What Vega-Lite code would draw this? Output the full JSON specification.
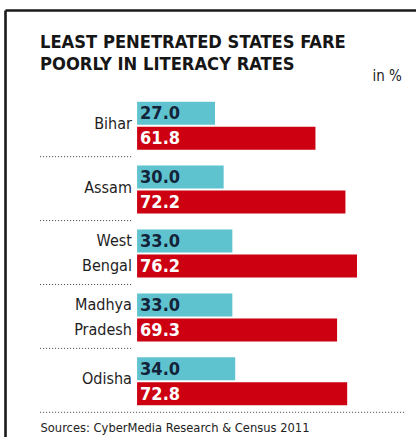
{
  "$schema": "https://vega.github.io/schema/vega-lite/v6.json",
  "width": 411,
  "height": 427,
  "autosize": {"type": "none"},
  "padding": {"left": 5, "top": 10, "right": 0, "bottom": 0},
  "background": "white",
  "config": {"view": {"stroke": null}},
  "title": {
    "text": ["LEAST PENETRATED STATES FARE", "POORLY IN LITERACY RATES"],
    "anchor": "start",
    "frame": "group",
    "font": "DejaVu Sans Condensed, sans-serif",
    "fontSize": 18.2,
    "fontWeight": "bold",
    "color": "#161616",
    "lineHeight": 22,
    "offset": 0,
    "dx": 35,
    "dy": 64
  },
  "data": {
    "values": [
      {"state": "Bihar", "series": "Internet penetration", "value": 27.0},
      {"state": "Bihar", "series": "Literacy rate", "value": 61.8},
      {"state": "Assam", "series": "Internet penetration", "value": 30.0},
      {"state": "Assam", "series": "Literacy rate", "value": 72.2},
      {"state": "West Bengal", "series": "Internet penetration", "value": 33.0},
      {"state": "West Bengal", "series": "Literacy rate", "value": 76.2},
      {"state": "Madhya Pradesh", "series": "Internet penetration", "value": 33.0},
      {"state": "Madhya Pradesh", "series": "Literacy rate", "value": 69.3},
      {"state": "Odisha", "series": "Internet penetration", "value": 34.0},
      {"state": "Odisha", "series": "Literacy rate", "value": 72.8}
    ]
  },
  "resolve": {"axis": {"x": "independent", "y": "independent"}},
  "layer": [
    {
      "mark": {"type": "bar"},
      "encoding": {
        "y": {
          "field": "state", "type": "nominal", "sort": null,
          "scale": {"domain": ["Bihar", "Assam", "West Bengal", "Madhya Pradesh", "Odisha"], "paddingInner": 0.249, "paddingOuter": 0.9656, "align": 0.743},
          "axis": {
            "orient": "left", "domain": true, "domainColor": "#1a1a1a", "domainWidth": 2.6,
            "labels": false, "ticks": false, "grid": false,
            "title": "Sources: CyberMedia Research & Census 2011",
            "titleAngle": 0, "titleAlign": "left", "titleBaseline": "alphabetic",
            "titleX": 35, "titleY": 421,
            "titleFont": "DejaVu Sans Condensed, sans-serif",
            "titleFontSize": 12.8, "titleFontWeight": "normal", "titleColor": "#222222"
          }
        },
        "x": {
          "field": "value", "type": "quantitative",
          "scale": {"domain": [-45.77, 96.64], "nice": false, "zero": false},
          "axis": {
            "orient": "top", "domain": true, "domainColor": "#1a1a1a", "domainWidth": 2.6,
            "labels": false, "ticks": false, "grid": false,
            "title": "in %",
            "titleAlign": "left", "titleBaseline": "alphabetic", "titleAngle": 0,
            "titleX": 367, "titleY": 70,
            "titleFont": "DejaVu Sans Condensed, sans-serif",
            "titleFontSize": 15, "titleFontWeight": "normal", "titleColor": "#222222"
          }
        },
        "yOffset": {
          "field": "series", "type": "nominal", "sort": null,
          "scale": {"domain": ["Internet penetration", "Literacy rate"], "paddingInner": 0.08, "paddingOuter": 0}
        },
        "color": {
          "field": "series", "type": "nominal",
          "scale": {"domain": ["Internet penetration", "Literacy rate"], "range": ["#5fc3cf", "#cc0011"]},
          "legend": null
        }
      }
    },
    {
      "mark": {"type": "text", "align": "left", "baseline": "middle", "dx": 3, "dy": 1, "font": "DejaVu Sans Condensed, sans-serif", "fontSize": 18, "fontWeight": "bold"},
      "encoding": {
        "y": {"field": "state", "type": "nominal", "sort": null, "axis": null},
        "yOffset": {"field": "series", "type": "nominal", "sort": null},
        "x": {"datum": 0, "type": "quantitative", "axis": null},
        "text": {"field": "value", "type": "quantitative", "format": ".1f"},
        "color": {"condition": {"test": "datum.series === 'Literacy rate'", "value": "#ffffff"}, "value": "#13233a"}
      }
    },
    {
      "transform": [
        {"filter": "datum.series === 'Literacy rate' && indexof(datum.state, ' ') < 0"}
      ],
      "mark": {"type": "text", "align": "right", "baseline": "middle", "dy": -2, "font": "DejaVu Sans Condensed, sans-serif", "fontSize": 16, "color": "#1e1e1e"},
      "encoding": {
        "y": {"field": "state", "type": "nominal", "sort": null, "axis": null},
        "x": {"datum": -1.8, "type": "quantitative", "axis": null},
        "text": {"field": "state", "type": "nominal"}
      }
    },
    {
      "transform": [
        {"filter": "datum.series === 'Literacy rate' && indexof(datum.state, ' ') >= 0"},
        {"calculate": "split(datum.state, ' ')", "as": "lines"}
      ],
      "mark": {"type": "text", "align": "right", "baseline": "middle", "dy": -12.5, "font": "DejaVu Sans Condensed, sans-serif", "fontSize": 16, "lineHeight": 25, "color": "#1e1e1e"},
      "encoding": {
        "y": {"field": "state", "type": "nominal", "sort": null, "axis": null},
        "x": {"datum": -1.8, "type": "quantitative", "axis": null},
        "text": {"field": "lines", "type": "nominal"}
      }
    },
    {
      "transform": [
        {"filter": "datum.series === 'Literacy rate' && datum.state !== 'Odisha'"}
      ],
      "mark": {"type": "rule", "color": "#3a3a3a", "strokeWidth": 1, "strokeDash": [1, 2]},
      "encoding": {
        "y": {"field": "state", "type": "nominal", "sort": null, "bandPosition": 1.146, "axis": null},
        "x": {"datum": -33.6, "type": "quantitative", "axis": null},
        "x2": {"datum": -1.8}
      }
    },
    {
      "transform": [
        {"filter": "datum.series === 'Literacy rate' && datum.state === 'Odisha'"}
      ],
      "mark": {"type": "rule", "color": "#3a3a3a", "strokeWidth": 1, "strokeDash": [1, 2]},
      "encoding": {
        "y": {"field": "state", "type": "nominal", "sort": null, "bandPosition": 1.146, "axis": null},
        "x": {"datum": -33.6, "type": "quantitative", "axis": null},
        "x2": {"datum": 92.8}
      }
    }
  ]
}
